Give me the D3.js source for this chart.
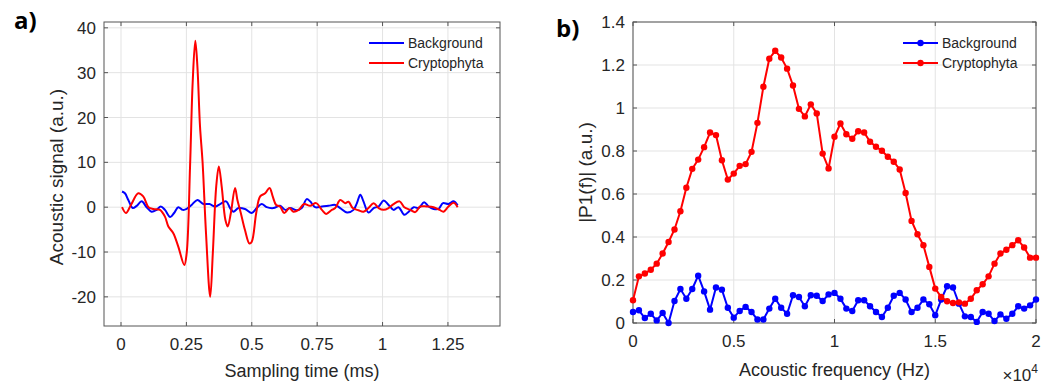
<!DOCTYPE html>
<html>
<head lang="en">
  <title>Acoustic signal and spectrum</title>
  <script src="https://d3js.org/d3.v7.min.js" charset="utf-8"></script>
  <style>
    body { margin: 0; background: #fff; }
    text { font-family: "Liberation Sans", Arial, sans-serif; fill: #262626; }
  </style>
</head>
<body>
  <script>
    // ---- panel a) time signal ----
    var bgTime = [0.004, 0.015, 0.028, 0.045, 0.06, 0.079, 0.098, 0.117, 0.136, 0.152, 0.168, 0.188, 0.203, 0.219,
      0.236, 0.251, 0.27, 0.292, 0.315, 0.338, 0.36, 0.379, 0.402, 0.417, 0.43, 0.449, 0.474, 0.5, 0.519, 0.538,
      0.557, 0.583, 0.608, 0.628, 0.647, 0.672, 0.691, 0.71, 0.723, 0.742, 0.768, 0.793, 0.819, 0.838, 0.864,
      0.889, 0.902, 0.915, 0.927, 0.946, 0.966, 0.985, 1.004, 1.023, 1.042, 1.061, 1.083, 1.1, 1.119, 1.138,
      1.159, 1.176, 1.195, 1.214, 1.231, 1.252, 1.272, 1.287];
    var bgSignal = [3.5, 3.1, 1.6, -0.2, 0.3, 1.3, 0, -1, -0.6, 0.15, -0.6, -2.2, -1.3, 0,
      -0.6, -0.4, 0.5, 1.6, 0.7, 0.7, 0.15, 0.7, 1.3, -0.2, -1, -0.2, -0.4, -1.3, -0.2, 0.7,
      0, -0.2, 0.3, -0.6, -0.2, -0.7, -0.2, 1.8, 1.3, 0, 0.15, 0.3, 0.5, -0.2, -1.2,
      -0.6, 0.9, 2.8, 1.3, -1.2, -0.2, 0.15, 1.5, 0.5, -0.6, 0, -1.7, -1, 0, -0.2,
      1.1, 0.15, -0.4, -0.4, 0.9, 0.7, 1.3, 0.4];

    var crTime = [0.004, 0.019, 0.038, 0.066, 0.085, 0.105, 0.124, 0.149, 0.168, 0.181, 0.2, 0.219, 0.242, 0.251,
      0.264, 0.274, 0.284, 0.292, 0.302, 0.312, 0.325, 0.341, 0.351, 0.364, 0.374, 0.385, 0.399, 0.408, 0.42,
      0.436, 0.445, 0.458, 0.474, 0.491, 0.5, 0.517, 0.532, 0.551, 0.568, 0.58, 0.593, 0.608, 0.624, 0.644,
      0.659, 0.679, 0.7, 0.723, 0.746, 0.768, 0.784, 0.806, 0.819, 0.838, 0.857, 0.87, 0.886, 0.908, 0.927,
      0.946, 0.966, 0.985, 1.004, 1.023, 1.042, 1.065, 1.083, 1.106, 1.125, 1.144, 1.17, 1.195, 1.218, 1.233,
      1.252, 1.272, 1.287];
    var crSignal = [0, -1.3, 0.5, 3.1, 2.4, 0, -0.4, -0.6, -2.1, -4.3, -5.8, -8.8, -12.9, -10.3,
      9.1, 27.8, 37.1, 31.5, 18.1, 9.9, -5.8, -20, -10.3, 4.6, 9.1, 4.6, -2.8, -4.3, -1.3,
      4.3, 1.6, -1.3, -5.1, -8.1, -7.7, -1.3, 2.4, 3.1, 4.3, 2.4, 0.5, 0.15, -1.3, -0.2,
      -1, -0.6, 0.7, 0.3, 0.9, -0.6, -1.5, -0.6, -0.2, 1.6, 0.9, 1.2, -0.2, -0.7, -1,
      -0.2, 0.9, -0.2, -0.6, -0.2, 0.7, 1.3, 0, -0.6, -1.1, 0.15, 0.15, 0, -0.6, -1,
      0.15, 1, 0];

    var timeTicks = [0, 0.25, 0.5, 0.75, 1, 1.25];
    var signalTicks = [-20, -10, 0, 10, 20, 30, 40];

    // ---- panel b) spectrum ----
    var freqHz = [0, 294, 588, 882, 1176, 1471, 1765, 2059, 2353, 2647, 2941, 3235, 3529, 3824, 4118, 4412,
      4706, 5000, 5294, 5588, 5882, 6176, 6471, 6765, 7059, 7353, 7647, 7941, 8235, 8529, 8824, 9118, 9412,
      9706, 10000, 10294, 10588, 10882, 11176, 11471, 11765, 12059, 12353, 12647, 12941, 13235, 13529, 13824,
      14118, 14412, 14706, 15000, 15294, 15588, 15882, 16176, 16471, 16765, 17059, 17353, 17647, 17941, 18235,
      18529, 18824, 19118, 19412, 19706, 20000];
    var bgSpectrum = [0.051, 0.059, 0.023, 0.043, 0.012, 0.047, 0.0, 0.102, 0.158, 0.113, 0.158, 0.22, 0.147,
      0.062, 0.165, 0.155, 0.071, 0.025, 0.056, 0.075, 0.051, 0.016, 0.016, 0.067, 0.113, 0.071, 0.043, 0.129,
      0.121, 0.078, 0.129, 0.127, 0.102, 0.133, 0.14, 0.113, 0.067, 0.056, 0.106, 0.106, 0.078, 0.051, 0.028,
      0.071, 0.127, 0.14, 0.109, 0.051, 0.071, 0.109, 0.087, 0.036, 0.109, 0.171, 0.165, 0.09, 0.031, 0.028,
      0.005, 0.051, 0.043, 0.009, 0.04, 0.02, 0.043, 0.078, 0.067, 0.082, 0.109];
    var crSpectrum = [0.106, 0.217, 0.23, 0.248, 0.276, 0.323, 0.377, 0.435, 0.52, 0.629, 0.717, 0.76, 0.818,
      0.886, 0.874, 0.757, 0.667, 0.695, 0.731, 0.739, 0.796, 0.931, 1.099, 1.229, 1.266, 1.235, 1.183, 1.105,
      0.996, 0.961, 1.017, 0.975, 0.788, 0.719, 0.866, 0.928, 0.878, 0.857, 0.892, 0.886, 0.843, 0.82, 0.801,
      0.773, 0.75, 0.714, 0.605, 0.475, 0.413, 0.362, 0.261, 0.16, 0.121, 0.101, 0.093, 0.096, 0.09, 0.113,
      0.152, 0.18, 0.217, 0.276, 0.323, 0.341, 0.362, 0.385, 0.351, 0.304, 0.304];

    var freqTicks = [0, 5000, 10000, 15000, 20000];
    var ampTicks = [0, 0.2, 0.4, 0.6, 0.8, 1, 1.2, 1.4];

    var seriesNames = ["Background", "Cryptophyta"];
    var seriesColors = ["#0000ff", "#ff0000"];

    var width = 1053, height = 385;
    var svg = d3.select("body").append("svg")
      .attr("width", width)
      .attr("height", height);

    function drawAxes(box, x, y, xTicks, yTicks, xFmt, yFmt) {
      var g = svg.append("g");
      // grid
      g.selectAll(".gx").data(xTicks).enter().append("line")
        .attr("x1", function(d) { return x(d); }).attr("x2", function(d) { return x(d); })
        .attr("y1", box.top).attr("y2", box.bottom)
        .style("stroke", "#e3e3e3").style("stroke-width", 1);
      g.selectAll(".gy").data(yTicks).enter().append("line")
        .attr("y1", function(d) { return y(d); }).attr("y2", function(d) { return y(d); })
        .attr("x1", box.left).attr("x2", box.right)
        .style("stroke", "#e3e3e3").style("stroke-width", 1);
      // box
      g.append("rect")
        .attr("x", box.left).attr("y", box.top)
        .attr("width", box.right - box.left).attr("height", box.bottom - box.top)
        .style("fill", "none").style("stroke", "#555").style("stroke-width", 1);
      // inward ticks on all sides
      var t = 4;
      xTicks.forEach(function(d) {
        g.append("line").attr("x1", x(d)).attr("x2", x(d)).attr("y1", box.bottom).attr("y2", box.bottom - t)
          .style("stroke", "#555");
        g.append("line").attr("x1", x(d)).attr("x2", x(d)).attr("y1", box.top).attr("y2", box.top + t)
          .style("stroke", "#555");
      });
      yTicks.forEach(function(d) {
        g.append("line").attr("y1", y(d)).attr("y2", y(d)).attr("x1", box.left).attr("x2", box.left + t)
          .style("stroke", "#555");
        g.append("line").attr("y1", y(d)).attr("y2", y(d)).attr("x1", box.right).attr("x2", box.right - t)
          .style("stroke", "#555");
      });
      // tick labels
      g.selectAll(".lx").data(xTicks).enter().append("text")
        .attr("x", function(d) { return x(d); })
        .attr("y", box.bottom + 24)
        .attr("text-anchor", "middle")
        .style("font-size", "17px")
        .text(xFmt);
      g.selectAll(".ly").data(yTicks).enter().append("text")
        .attr("x", box.left - 8)
        .attr("y", function(d) { return y(d); })
        .attr("dy", "0.36em")
        .attr("text-anchor", "end")
        .style("font-size", "17px")
        .text(yFmt);
      return g;
    }

    function drawLegend(x0, y0, withMarkers) {
      seriesNames.forEach(function(name, i) {
        var yy = y0 + i * 20;
        svg.append("line").attr("x1", x0).attr("x2", x0 + 35).attr("y1", yy).attr("y2", yy)
          .style("stroke", seriesColors[i]).style("stroke-width", 2);
        if (withMarkers) {
          svg.append("circle").attr("cx", x0 + 17.5).attr("cy", yy).attr("r", 3.2)
            .style("fill", seriesColors[i]);
        }
        svg.append("text").attr("x", x0 + 39).attr("y", yy).attr("dy", "0.35em")
          .style("font-size", "14px").text(name);
      });
    }

    // ===== panel a =====
    var boxA = { left: 104, right: 500, top: 22, bottom: 326 };
    var xA = d3.scaleLinear().domain([-0.065, 1.449]).range([boxA.left, boxA.right]);
    var yA = d3.scaleLinear().domain([-26.5, 41.3]).range([boxA.bottom, boxA.top]);

    drawAxes(boxA, xA, yA, timeTicks, signalTicks, function(d) { return String(d); }, function(d) { return String(d); });

    var lineA = d3.line().curve(d3.curveCatmullRom.alpha(0.5))
      .x(function(d) { return xA(d[0]); })
      .y(function(d) { return yA(d[1]); });

    svg.append("path")
      .datum(d3.zip(bgTime, bgSignal))
      .attr("d", lineA)
      .style("fill", "none").style("stroke", seriesColors[0]).style("stroke-width", 2);
    svg.append("path")
      .datum(d3.zip(crTime, crSignal))
      .attr("d", lineA)
      .style("fill", "none").style("stroke", seriesColors[1]).style("stroke-width", 2);

    drawLegend(369, 43, false);

    svg.append("text").attr("x", (boxA.left + boxA.right) / 2).attr("y", 377)
      .attr("text-anchor", "middle").style("font-size", "18px").text("Sampling time (ms)");
    svg.append("text")
      .attr("transform", "translate(63," + ((boxA.top + boxA.bottom) / 2 + 3) + ") rotate(-90)")
      .attr("text-anchor", "middle").style("font-size", "19px").text("Acoustic signal (a.u.)");

    svg.append("text").attr("x", 14).attr("y", 29)
      .style("font-family", "'Open Sans', sans-serif").style("font-weight", "bold")
      .style("font-size", "24px").style("fill", "#000").text("a)");

    // ===== panel b =====
    var boxB = { left: 633, right: 1036, top: 22, bottom: 323 };
    var xB = d3.scaleLinear().domain([0, 20000]).range([boxB.left, boxB.right]);
    var yB = d3.scaleLinear().domain([0, 1.4]).range([boxB.bottom, boxB.top]);

    drawAxes(boxB, xB, yB, freqTicks, ampTicks,
      function(d) { return String(d / 10000); },
      function(d) { return String(+d.toFixed(1)); });

    var lineB = d3.line()
      .x(function(d) { return xB(d[0]); })
      .y(function(d) { return yB(d[1]); });

    [bgSpectrum, crSpectrum].forEach(function(vals, i) {
      var pts = d3.zip(freqHz, vals);
      svg.append("path").datum(pts).attr("d", lineB)
        .style("fill", "none").style("stroke", seriesColors[i]).style("stroke-width", 2);
      svg.append("g").selectAll("circle").data(pts).enter().append("circle")
        .attr("cx", function(d) { return xB(d[0]); })
        .attr("cy", function(d) { return yB(d[1]); })
        .attr("r", 3.2)
        .style("fill", seriesColors[i]);
    });

    drawLegend(903, 43, true);

    svg.append("text").attr("x", (boxB.left + boxB.right) / 2).attr("y", 376)
      .attr("text-anchor", "middle").style("font-size", "18px").text("Acoustic frequency (Hz)");
    svg.append("text")
      .attr("transform", "translate(592," + ((boxB.top + boxB.bottom) / 2) + ") rotate(-90)")
      .attr("text-anchor", "middle").style("font-size", "19px").text("|P1(f)| (a.u.)");

    var expo = svg.append("text").attr("x", 1038).attr("y", 381).attr("text-anchor", "end")
      .style("font-size", "17px");
    expo.append("tspan").text("\u00d710");
    expo.append("tspan").attr("dy", "-8").style("font-size", "12px").text("4");

    svg.append("text").attr("x", 556).attr("y", 37)
      .style("font-family", "'Open Sans', sans-serif").style("font-weight", "bold")
      .style("font-size", "24px").style("fill", "#000").text("b)");
  </script>
</body>
</html>
